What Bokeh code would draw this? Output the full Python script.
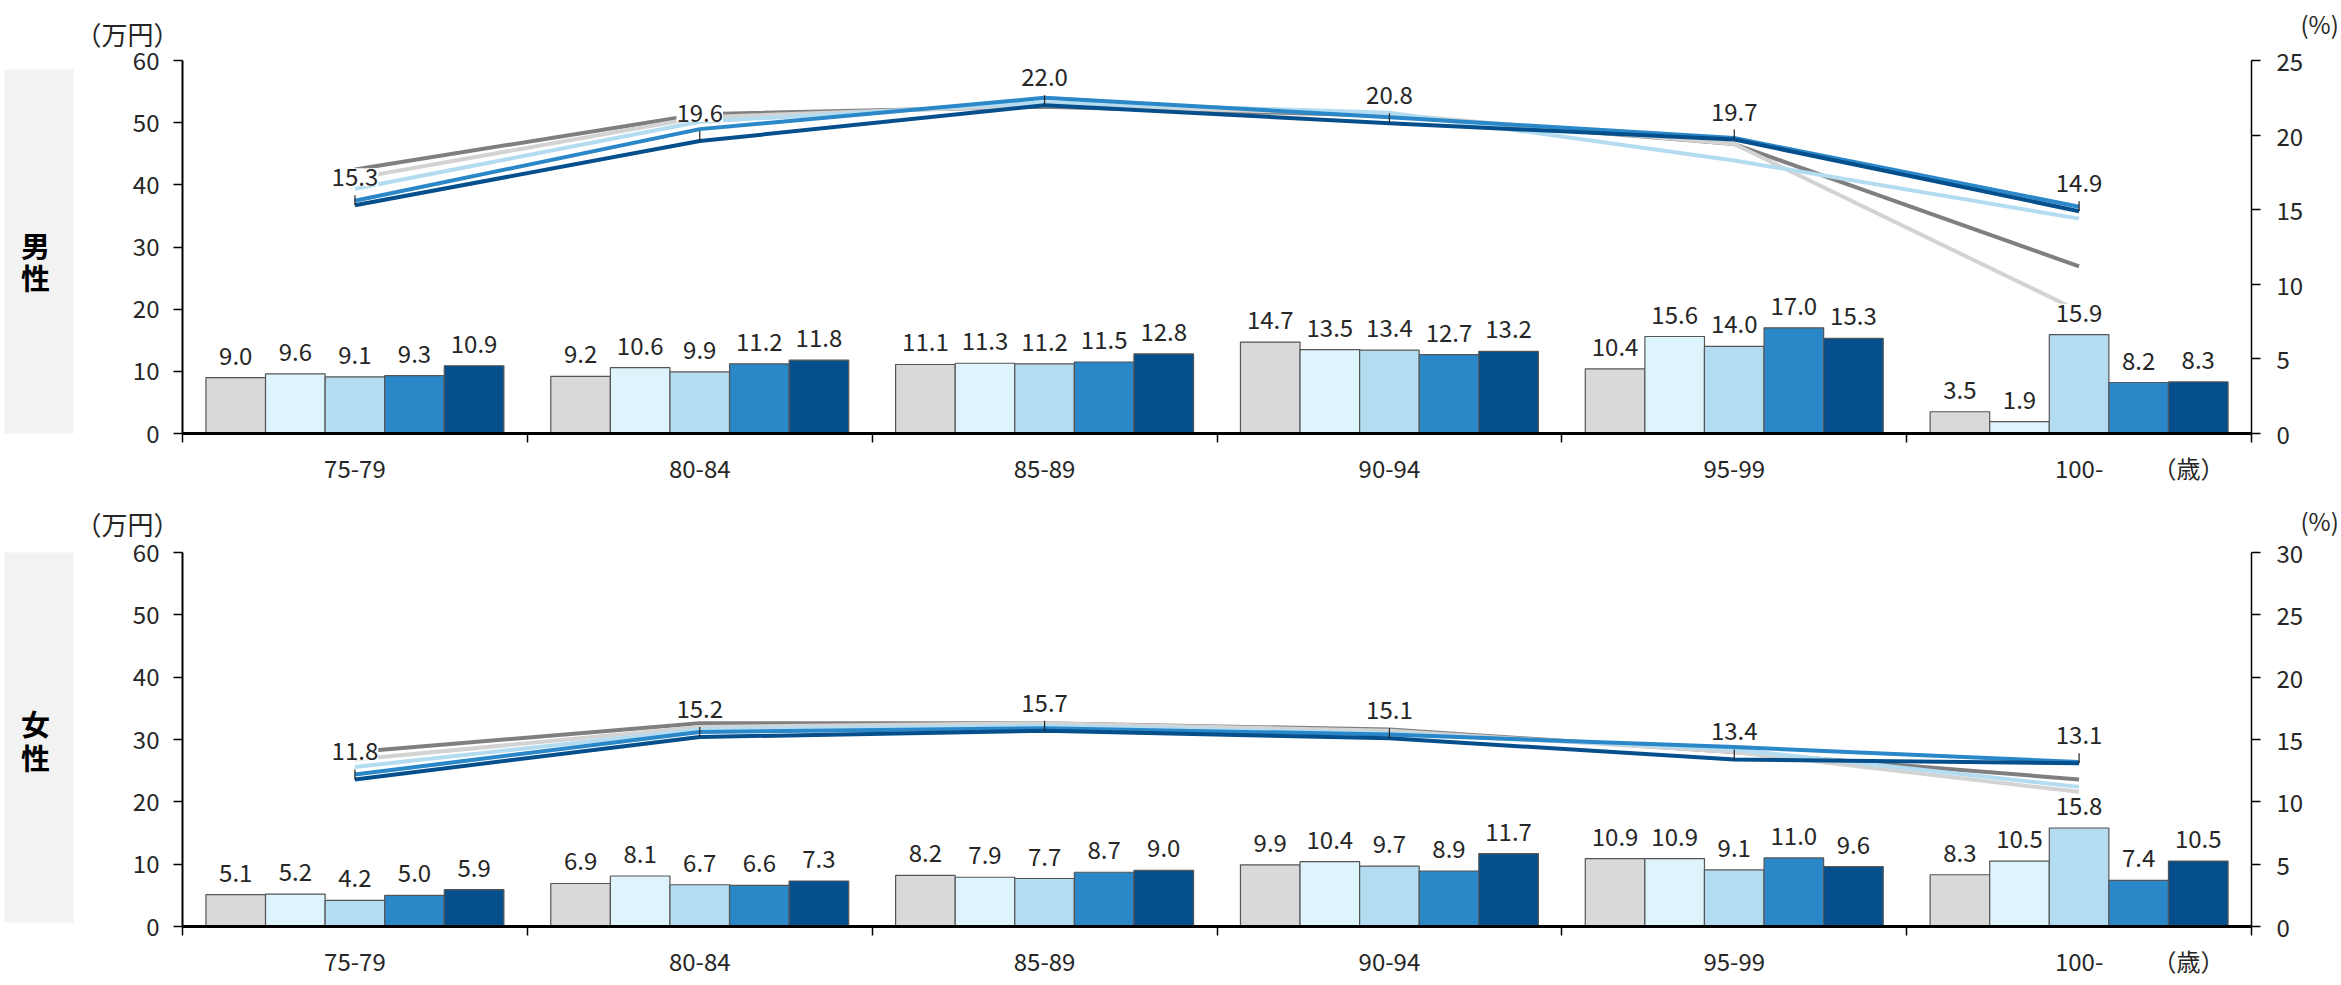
from bokeh.plotting import figure
from bokeh.models import (Range1d, LinearAxis, FixedTicker, ColumnDataSource,
                          LabelSet)
from bokeh.layouts import column, row
from bokeh.core.properties import value
from bokeh.embed import file_html
from bokeh.resources import INLINE

# ---------------- data ----------------
categories = ["75-79", "80-84", "85-89", "90-94", "95-99", "100-"]

# amounts (万円), five series per age group
male_amt_1 = [9.0, 9.2, 11.1, 14.7, 10.4, 3.5]
male_amt_2 = [9.6, 10.6, 11.3, 13.5, 15.6, 1.9]
male_amt_3 = [9.1, 9.9, 11.2, 13.4, 14.0, 15.9]
male_amt_4 = [9.3, 11.2, 11.5, 12.7, 17.0, 8.2]
male_amt_5 = [10.9, 11.8, 12.8, 13.2, 15.3, 8.3]

female_amt_1 = [5.1, 6.9, 8.2, 9.9, 10.9, 8.3]
female_amt_2 = [5.2, 8.1, 7.9, 10.4, 10.9, 10.5]
female_amt_3 = [4.2, 6.7, 7.7, 9.7, 9.1, 15.8]
female_amt_4 = [5.0, 6.6, 8.7, 8.9, 11.0, 7.4]
female_amt_5 = [5.9, 7.3, 9.0, 11.7, 9.6, 10.5]

# rates (%), five series per age group
male_pct_1 = [17.7, 21.4, 21.9, 21.3, 19.4, 11.2]
male_pct_2 = [17.1, 21.2, 22.0, 21.4, 19.4, 8.2]
male_pct_3 = [16.4, 20.9, 22.2, 21.5, 18.3, 14.4]
male_pct_4 = [15.6, 20.4, 22.5, 21.2, 19.8, 15.2]
male_pct_5 = [15.3, 19.6, 22.0, 20.8, 19.7, 14.9]

female_pct_1 = [14.0, 16.3, 16.3, 15.8, 14.0, 11.8]
female_pct_2 = [13.4, 16.0, 16.3, 15.7, 14.0, 10.8]
female_pct_3 = [12.8, 15.8, 16.1, 15.5, 14.2, 11.2]
female_pct_4 = [12.2, 15.6, 15.9, 15.4, 14.4, 13.2]
female_pct_5 = [11.8, 15.2, 15.7, 15.1, 13.4, 13.1]

left_ticks = [0, 10, 20, 30, 40, 50, 60]
male_right_ticks = [0, 5, 10, 15, 20, 25]
female_right_ticks = [0, 5, 10, 15, 20, 25, 30]

unit_amt = "（万円）"
unit_pct = "(%)"
unit_age = "（歳）"

# ---------------- style / layout ----------------
FONT = "Noto Sans CJK JP"
TXT = "#262626"
BAR_COLORS = ["#d9d9d9", "#ddf4fc", "#b4dcf0", "#2a87c8", "#044f8c"]
LINE_COLORS = ["#7f7f7f", "#d3d3d3", "#b4dcf0", "#2a87c8", "#044f8c"]
SIDE_W = 74
MAIN_W = 2267
FRAME_L, FRAME_R = 182, 2253
BL = FRAME_L - SIDE_W
BR = SIDE_W + MAIN_W - FRAME_R
BAR_W = 0.1728


def side_strip(title, height, frame_top, frame_bot, box_top, box_bot, char_y):
    # the strip's frame is aligned with the neighbouring plot frame
    s = figure(width=SIDE_W, height=height, output_backend="svg",
               toolbar_location=None, min_border=0,
               x_range=Range1d(0, SIDE_W),
               y_range=Range1d(frame_bot, frame_top),
               x_axis_type=None, y_axis_type=None)
    s.outline_line_color = None
    s.grid.visible = False
    s.background_fill_color = "white"
    s.border_fill_color = "white"
    s.quad(left=[4], right=[73], top=[box_top], bottom=[box_bot],
           fill_color="#f2f2f2", line_color=None)
    s.text(x=[35] * len(title), y=char_y, text=list(title),
           text_font=value(FONT), text_font_size="29px",
           text_font_style="bold", text_color="#000000",
           text_align="center", text_baseline="middle")
    return s


def panel(amts, pcts, right_ticks, height, btop, bbot, title_standoff, pct_lh):
    n = len(categories)
    pmax = right_ticks[-1]
    frame_h = height - btop - bbot
    p = figure(width=MAIN_W, height=height, x_range=Range1d(0, n),
               y_range=Range1d(0, left_ticks[-1]),
               output_backend="svg", toolbar_location=None,
               min_border_left=BL, min_border_right=BR,
               min_border_top=btop, min_border_bottom=bbot)
    p.outline_line_color = None
    p.xgrid.visible = False
    p.ygrid.visible = False
    p.background_fill_color = "white"
    p.border_fill_color = "white"
    p.extra_y_ranges = {"pct": Range1d(0, pmax)}

    # unit label above the left axis
    p.title.text = unit_amt
    p.title.align = "left"
    p.title.vertical_align = "middle"
    p.title.offset = -107
    p.title.standoff = title_standoff
    p.title.text_font = FONT
    p.title.text_font_size = "26px"
    p.title.text_font_style = "normal"
    p.title.text_color = TXT

    # bars
    centers = [i + 0.5 for i in range(n)]
    for j, vals in enumerate(amts):
        xs = [c + (j - 2) * BAR_W for c in centers]
        src = ColumnDataSource(dict(x=xs, y=vals, t=[f"{v:.1f}" for v in vals]))
        p.vbar(x="x", top="y", width=BAR_W, source=src,
               fill_color=BAR_COLORS[j], line_color="#555555", line_width=1.2)
        p.add_layout(LabelSet(x="x", y="y", text="t", source=src,
                              text_font=value(FONT), text_font_size="24px",
                              text_color=TXT, text_align="center",
                              text_baseline="alphabetic", y_offset=13,
                              background_fill_color="white"))

    # lines
    for j, vals in enumerate(pcts):
        p.line(centers, vals, y_range_name="pct", line_color=LINE_COLORS[j],
               line_width=4, line_join="round")

    last = pcts[-1]
    lead = 10 * pmax / frame_h
    p.segment(x0=centers, y0=last, x1=centers, y1=[v + lead for v in last],
              y_range_name="pct", line_color="#222222", line_width=1.2)
    lsrc = ColumnDataSource(dict(x=centers, y=last, t=[f"{v:.1f}" for v in last]))
    p.add_layout(LabelSet(x="x", y="y", text="t", source=lsrc, y_range_name="pct",
                          text_font=value(FONT), text_font_size="24px", text_color=TXT,
                          text_align="center", text_baseline="alphabetic",
                          y_offset=19, background_fill_color="white"))

    # axes
    ya = p.yaxis[0]
    ya.ticker = FixedTicker(ticks=left_ticks)
    ya.major_tick_out = 9
    ya.major_tick_in = 0
    ya.minor_tick_line_color = None
    ya.axis_line_width = 2
    ya.major_tick_line_width = 1.5
    ya.major_label_standoff = 14
    ya.major_label_text_font = FONT
    ya.major_label_text_font_size = "24px"
    ya.major_label_text_color = TXT
    ya.axis_line_color = "#000000"
    ya.major_tick_line_color = "#000000"

    ra = LinearAxis(y_range_name="pct", ticker=FixedTicker(ticks=right_ticks))
    ra.major_tick_out = 9
    ra.major_tick_in = 0
    ra.minor_tick_line_color = None
    ra.axis_line_width = 1.5
    ra.major_tick_line_width = 1.5
    ra.major_label_standoff = 16
    ra.major_label_text_font = FONT
    ra.major_label_text_font_size = "24px"
    ra.major_label_text_color = TXT
    ra.major_label_text_line_height = pct_lh
    ra.major_label_overrides = {right_ticks[-1]: "\u3000" + unit_pct + "\n" + str(right_ticks[-1]) + "\n"}
    p.add_layout(ra, "right")

    cat_px = (FRAME_R - FRAME_L) / n
    x_age = n - 63 / cat_px          # "(歳)" sits ~63px left of the right axis
    xa = p.xaxis[0]
    xa.ticker = FixedTicker(ticks=centers + [x_age], minor_ticks=list(range(n + 1)))
    ov = {c: lab for c, lab in zip(centers, categories)}
    ov[x_age] = unit_age
    xa.major_label_overrides = ov
    xa.major_tick_out = 0
    xa.major_tick_in = 0
    xa.minor_tick_out = 9
    xa.minor_tick_in = 0
    xa.minor_tick_line_color = "#000000"
    xa.minor_tick_line_width = 1.5
    xa.axis_line_width = 3
    xa.axis_line_color = "#000000"
    xa.major_label_standoff = 7
    xa.major_label_text_font = FONT
    xa.major_label_text_font_size = "24px"
    xa.major_label_text_color = TXT
    return p


H1, H2 = 490, 494
s1 = side_strip("男性", H1, 60, 433, 69, 443, [244, 276])
p1 = panel([male_amt_1, male_amt_2, male_amt_3, male_amt_4, male_amt_5],
           [male_pct_1, male_pct_2, male_pct_3, male_pct_4, male_pct_5],
           male_right_ticks, H1, 60, 57, 15, 1.06)
s2 = side_strip("女性", H2, 62, 436, 57, 432, [232, 266])
p2 = panel([female_amt_1, female_amt_2, female_amt_3, female_amt_4, female_amt_5],
           [female_pct_1, female_pct_2, female_pct_3, female_pct_4, female_pct_5],
           female_right_ticks, H2, 62, 58, 19, 0.91)

layout = column(row(s1, p1, spacing=0), row(s2, p2, spacing=0), spacing=0)
open("out.html", "w").write(file_html(layout, INLINE))
